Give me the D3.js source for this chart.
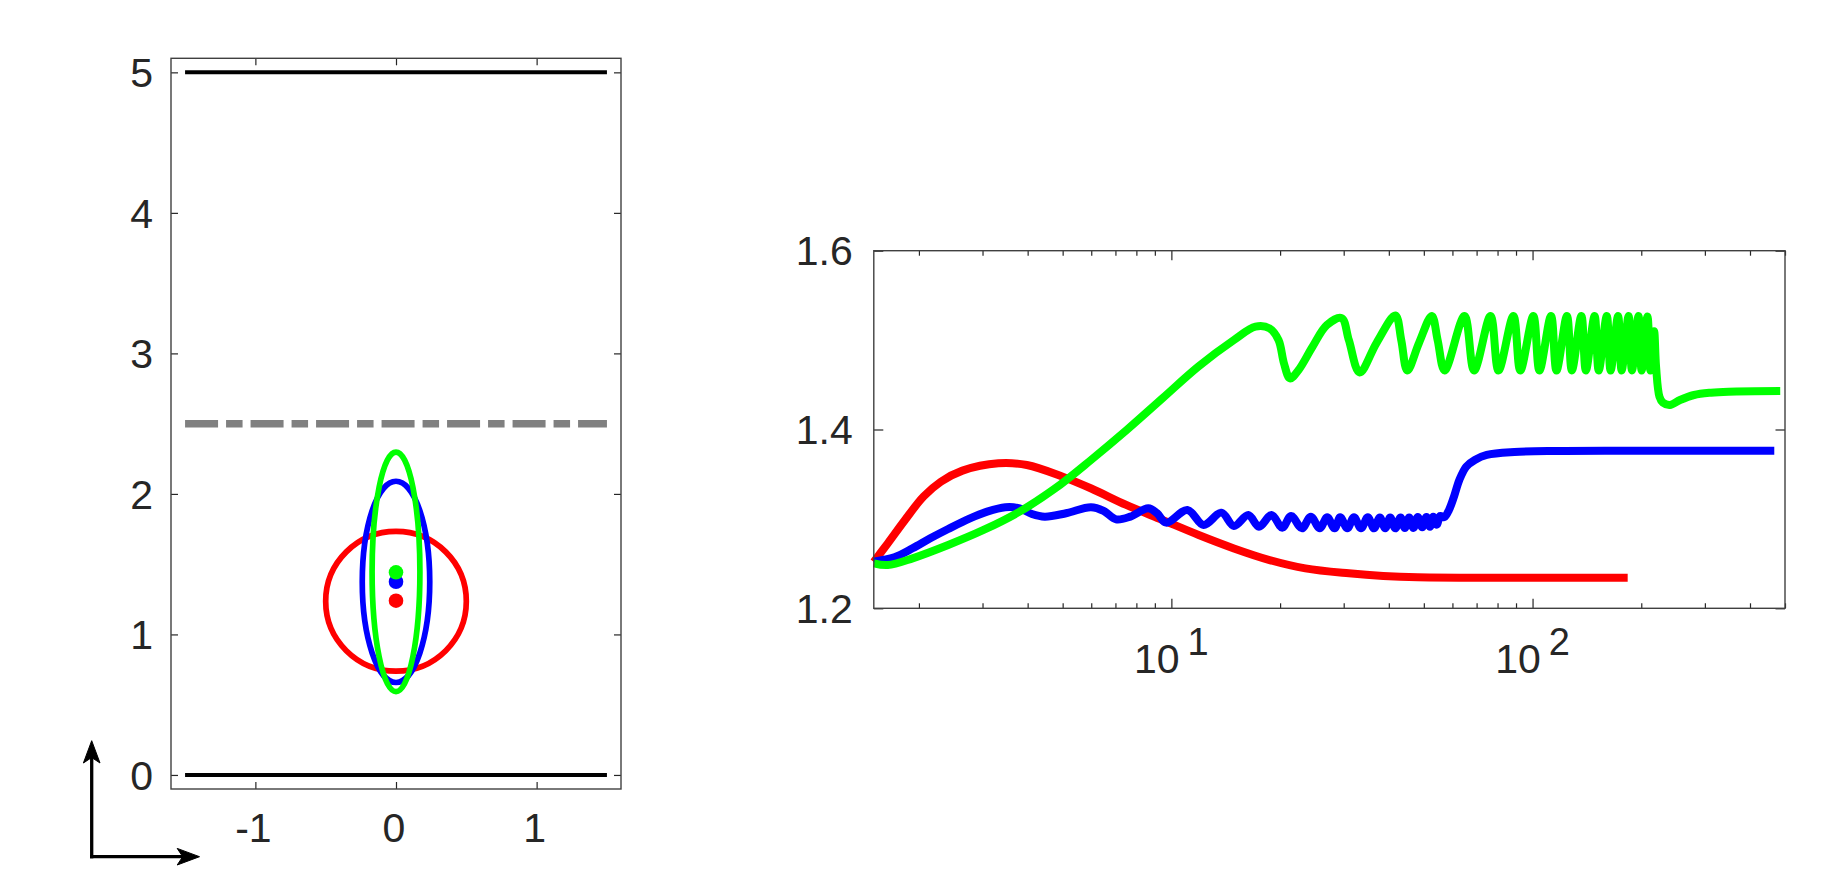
<!DOCTYPE html>
<html><head><meta charset="utf-8">
<script src="https://cdn.jsdelivr.net/npm/d3@7"></script>
<style>
body{margin:0;background:#fff}
svg{display:block}
text{font-family:"Liberation Sans",Arial,Helvetica,sans-serif;fill:#262626}
</style>
</head><body>
<svg id="c" width="1821" height="896"></svg>
<script>
// ---------------- Left panel data ----------------
const leftXTicks = [-1, 0, 1];
const leftYTicks = [0, 1, 2, 3, 4, 5];
const wallLevels = [0, 5];
const wallExtent = [-1.5, 1.5];
const interfaceLevel = 2.5;
const shapeColors = ["#ff0000", "#0000ff", "#00ff00"];
const shapeCenterX = [0, 0, 0];
const shapeCenterY = [1.236, 1.374, 1.445];
const shapeRadiusX = [0.5, 0.24, 0.17];
const shapeRadiusY = [0.497, 0.716, 0.852];
const centroidY = [1.240, 1.375, 1.442];

// ---------------- Right panel data ----------------
const rightYTicks = [1.2, 1.4, 1.6];
const rightXMajor = [10, 100];
const redSeries = [
  [1.5,1.252],[1.64,1.2727],[1.83,1.2988],[2.06,1.325],[2.30,1.3416],[2.64,1.354],[3.32,1.3622],
  [3.98,1.3603],[5.0,1.3472],[6.0,1.334],[7.5,1.3156],[9.45,1.2988],[11.9,1.282],[14.9,1.267],
  [18.7,1.254],[23.5,1.2447],[31.0,1.2391],[38.6,1.2361],[48.1,1.2346],[74.7,1.2343],[183.4,1.2343]
];
const blueSeries = [
  [1.5,1.2522],[1.71,1.257],[1.92,1.2671],[2.15,1.2783],[2.41,1.2887],[2.76,1.3003],[3.09,1.3081],
  [3.47,1.313],[3.80,1.3118],[4.11,1.3055],[4.46,1.3025],[5.11,1.3063],[5.99,1.313],[6.49,1.3089],
  [7.03,1.2995],[7.70,1.3025],[8.63,1.3118],[9.13,1.3063],[9.67,1.2958],[11.08,1.31],[12.28,1.2932],
  [13.76,1.307],[14.9,1.2921],[16.33,1.3044],[17.48,1.2913],[18.94,1.3044],[20.28,1.2902],[21.46,1.3033],
  [22.98,1.2895],[24.32,1.3025],[25.75,1.2895],[27.0,1.3018],[28.3,1.2895],[29.34,1.3018],[30.7,1.2895],
  [32.03,1.3018],[33.5,1.2895],[34.98,1.3018],[36.4,1.2895],[37.77,1.3015],[39.1,1.2895],[40.35,1.3015],
  [41.7,1.2895],[43.1,1.3015],[44.3,1.2899],[45.54,1.3015],[46.8,1.2899],[48.1,1.302],[49.5,1.2906],
  [50.84,1.302],[52.0,1.2913],[53.1,1.3025],[54.3,1.2935],[55.5,1.3033],[57.0,1.302],[58.7,1.31],
  [60.6,1.3249],[62.7,1.3435],[65.5,1.3584],[69.2,1.3659],[74.7,1.3715],[89.1,1.3748],[116,1.376],
  [180,1.3763],[467,1.3763]
];
const greenSeries = [
  [1.5,1.2503],[1.64,1.2484],[1.92,1.2559],[2.41,1.2708],[3.02,1.2876],[3.80,1.3081],[4.77,1.3342],
  [5.99,1.3659],[7.52,1.3994],[9.45,1.4349],[11.87,1.4703],[14.9,1.5001],[17.1,1.515],[18.7,1.5131],
  [19.8,1.5001],[20.5,1.474],[21.3,1.4572],[22.5,1.4666],[24.6,1.4927],[26.95,1.5169],[29.6,1.5245],
  [31.0,1.50],[33.2,1.4638],[37,1.497],[41.7,1.5275],[43.3,1.50],[45.0,1.466],[48.5,1.497],
  [52.6,1.527],[54.6,1.50],[57.1,1.466],[64.8,1.527],[68.9,1.466],[76.5,1.527],[80.5,1.466],
  [88.5,1.527],[92.5,1.466],[100.5,1.527],[104.5,1.466],[112.5,1.527],[116.5,1.466],
  [124.5,1.527],[128.5,1.466],[136.5,1.527],[140.5,1.466],[148.5,1.527],[152.5,1.466],
  [160.5,1.527],[164.5,1.466],[172.5,1.527],[176.5,1.466],[184.5,1.527],[188.5,1.466],
  [196.5,1.527],[200.5,1.466],[208,1.5265],[212,1.466],[217,1.51],[219.8,1.4700],
  [224.6,1.4367],[229.6,1.4300],[240,1.4274],[256,1.433],[280,1.4386],[312,1.4412],[349,1.4423],[485,1.443]
];

const svg = d3.select("#c");
const FS = 41;

// ================= LEFT PANEL =================
const L = {x0: 171, x1: 621, y0: 58.3, y1: 789};
const xl = d3.scaleLinear().domain([-1.6, 1.6]).range([L.x0, L.x1]);
const yl = d3.scaleLinear().domain([-0.1, 5.1]).range([L.y1, L.y0]);
const gl = svg.append("g");

function styleAxis(g){ g.select(".domain").remove(); g.selectAll(".tick line").attr("stroke","#262626").attr("stroke-width",1.2); }
gl.append("g").attr("transform",`translate(0,${L.y1})`)
  .call(d3.axisBottom(xl).tickValues(leftXTicks).tickSizeInner(-7).tickSizeOuter(0).tickFormat(""))
  .call(styleAxis);
gl.append("g").attr("transform",`translate(0,${L.y0})`)
  .call(d3.axisTop(xl).tickValues(leftXTicks).tickSizeInner(-7).tickSizeOuter(0).tickFormat(""))
  .call(styleAxis);
gl.append("g").attr("transform",`translate(${L.x0},0)`)
  .call(d3.axisLeft(yl).tickValues(leftYTicks).tickSizeInner(-7).tickSizeOuter(0).tickFormat(""))
  .call(styleAxis);
gl.append("g").attr("transform",`translate(${L.x1},0)`)
  .call(d3.axisRight(yl).tickValues(leftYTicks).tickSizeInner(-7).tickSizeOuter(0).tickFormat(""))
  .call(styleAxis);
gl.append("rect").attr("x",L.x0).attr("y",L.y0).attr("width",L.x1-L.x0).attr("height",L.y1-L.y0)
  .attr("fill","none").attr("stroke","#404040").attr("stroke-width",1.4);

gl.selectAll("text.yl").data(leftYTicks).join("text").attr("class","yl")
  .attr("x", L.x0-18).attr("y", d=>yl(d)+FS*0.36).attr("text-anchor","end")
  .attr("font-size",FS).text(d=>d);
gl.selectAll("text.xl").data(leftXTicks).join("text").attr("class","xl")
  .attr("x", d=>xl(d)-2).attr("y", 842).attr("text-anchor","middle")
  .attr("font-size",FS).text(d=>d);

gl.selectAll("line.wall").data(wallLevels).join("line").attr("class","wall")
  .attr("x1",xl(wallExtent[0])).attr("x2",xl(wallExtent[1]))
  .attr("y1",d=>yl(d)).attr("y2",d=>yl(d)).attr("stroke","#000").attr("stroke-width",4);
gl.append("line").attr("x1",xl(wallExtent[0])).attr("x2",xl(wallExtent[1]))
  .attr("y1",yl(interfaceLevel)).attr("y2",yl(interfaceLevel))
  .attr("stroke","#808080").attr("stroke-width",7.5).attr("stroke-dasharray","33,8,16.5,8");

shapeColors.forEach((c,i)=>{
  gl.append("ellipse").attr("cx",xl(shapeCenterX[i])).attr("cy",yl(shapeCenterY[i]))
    .attr("rx",xl(shapeRadiusX[i])-xl(0)).attr("ry",yl(0)-yl(shapeRadiusY[i]))
    .attr("fill","none").attr("stroke",c).attr("stroke-width",5.7);
});
shapeColors.forEach((c,i)=>{
  gl.append("circle").attr("cx",xl(0)).attr("cy",yl(centroidY[i])).attr("r",7.3).attr("fill",c);
});

const ar = svg.append("g").attr("stroke","#000").attr("fill","#000");
ar.append("path").attr("d","M91.7,858.5 L91.7,748 M90,856.7 L190,856.7").attr("stroke-width",3.3).attr("fill","none");
ar.append("path").attr("d","M91.7,740.7 L100,763 L91.7,757.5 L83.4,763 Z").attr("stroke-width",1);
ar.append("path").attr("d","M199.5,856.7 L177.2,865 L182.7,856.7 L177.2,848.4 Z").attr("stroke-width",1);

// ================= RIGHT PANEL =================
const R = {x0: 873.8, x1: 1785, y0: 250.7, y1: 608.3};
const xr = d3.scaleLog().domain([1.5, 500]).range([R.x0, R.x1]);
const yr = d3.scaleLinear().domain([1.2, 1.6]).range([R.y1, R.y0]);
const gr = svg.append("g");
const allTicks = xr.ticks().filter(d=>d>=1.5 && d<=500);
const minor = allTicks.filter(d=>!rightXMajor.includes(d));

gr.append("g").attr("transform",`translate(0,${R.y1})`)
  .call(d3.axisBottom(xr).tickValues(minor).tickSizeInner(-5).tickSizeOuter(0).tickFormat("")).call(styleAxis);
gr.append("g").attr("transform",`translate(0,${R.y1})`)
  .call(d3.axisBottom(xr).tickValues(rightXMajor).tickSizeInner(-9.5).tickSizeOuter(0).tickFormat("")).call(styleAxis);
gr.append("g").attr("transform",`translate(0,${R.y0})`)
  .call(d3.axisTop(xr).tickValues(minor).tickSizeInner(-5).tickSizeOuter(0).tickFormat("")).call(styleAxis);
gr.append("g").attr("transform",`translate(0,${R.y0})`)
  .call(d3.axisTop(xr).tickValues(rightXMajor).tickSizeInner(-9.5).tickSizeOuter(0).tickFormat("")).call(styleAxis);
gr.append("g").attr("transform",`translate(${R.x0},0)`)
  .call(d3.axisLeft(yr).tickValues(rightYTicks).tickSizeInner(-9.5).tickSizeOuter(0).tickFormat("")).call(styleAxis);
gr.append("g").attr("transform",`translate(${R.x1},0)`)
  .call(d3.axisRight(yr).tickValues(rightYTicks).tickSizeInner(-9.5).tickSizeOuter(0).tickFormat("")).call(styleAxis);

gr.selectAll("text.yr").data(rightYTicks).join("text").attr("class","yr")
  .attr("x", R.x0-21).attr("y", d=>yr(d)+FS*0.36).attr("text-anchor","end")
  .attr("font-size",FS).text(d=>d.toFixed(1));
const xlab = gr.selectAll("text.xr").data(rightXMajor).join("text").attr("class","xr")
  .attr("x", d=>xr(d)).attr("y", 673).attr("text-anchor","middle").attr("font-size",FS);
xlab.append("tspan").text("10");
xlab.append("tspan").attr("dx",8).attr("dy",-18).attr("font-size",38).text(d=>Math.round(Math.log10(d)));

const line = d3.line().x(d=>xr(d[0])).y(d=>yr(d[1])).curve(d3.curveCatmullRom.alpha(0.5));
[[redSeries,"#ff0000"],[blueSeries,"#0000ff"],[greenSeries,"#00ff00"]].forEach(([s,c])=>{
  gr.append("path").datum(s).attr("d",line).attr("fill","none").attr("stroke",c)
    .attr("stroke-width",8).attr("stroke-linejoin","round");
});
gr.append("rect").attr("x",R.x0).attr("y",R.y0).attr("width",R.x1-R.x0).attr("height",R.y1-R.y0)
  .attr("fill","none").attr("stroke","#404040").attr("stroke-width",1.4);
</script>
</body></html>
